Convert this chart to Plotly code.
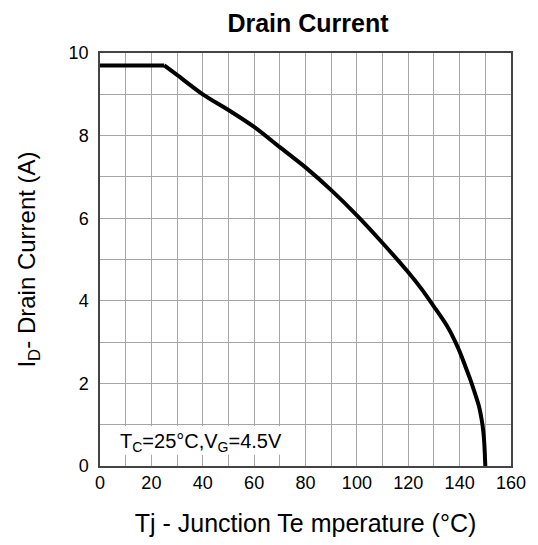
import plotly.graph_objects as go

# Data
flat_temperature_c = [0, 25]
flat_current_a = [9.7, 9.7]

temperature_c = [25, 30, 40, 50, 60, 70, 80, 90, 100, 110, 120, 125,
                 130, 135, 138, 140, 142, 144, 146, 147.5, 148.5, 149.2, 149.6,
                 149.8, 150]
drain_current_a = [9.7, 9.47, 9.0, 8.62, 8.21, 7.72, 7.23, 6.68, 6.07,
                   5.40, 4.69, 4.30, 3.86, 3.40, 3.05, 2.77, 2.45, 2.12,
                   1.75, 1.45, 1.15, 0.85, 0.55, 0.30, 0.0]

x_ticks = [0, 20, 40, 60, 80, 100, 120, 140, 160]
y_ticks = [0, 2, 4, 6, 8, 10]

FONT = "Arial, Liberation Sans, Helvetica, sans-serif"
GRID = "#a6a6a6"
FRAME = "#444444"

fig = go.Figure()
fig.add_trace(go.Scatter(
    x=flat_temperature_c, y=flat_current_a, mode="lines",
    line=dict(color="black", width=4, shape="linear"),
    showlegend=False, hoverinfo="x+y",
))
fig.add_trace(go.Scatter(
    x=temperature_c, y=drain_current_a, mode="lines",
    line=dict(color="black", width=4, shape="spline", smoothing=0.8),
    showlegend=False, hoverinfo="x+y",
))

# white box behind the condition label (covers grid lines)
fig.add_shape(type="rect", xref="x", yref="y", x0=0, x1=79, y0=0.27, y1=0.97,
              fillcolor="white", line=dict(width=0), layer="between")

fig.add_annotation(
    x=(118 - 100) / 416, y=(474 - 450) / 421, xref="paper", yref="paper",
    text="T<sub>C</sub>=25°C,V<sub>G</sub>=4.5V",
    showarrow=False, xanchor="left", yanchor="middle",
    font=dict(family=FONT, size=20, color="black"),
)

fig.update_layout(
    width=538, height=545,
    margin=dict(l=100, r=22, t=53, b=71),
    paper_bgcolor="white", plot_bgcolor="white",
    font=dict(family=FONT, color="black"),
    title=dict(text="<b>Drain Current</b>", x=(100 + 516) / 2 / 538, xanchor="center",
               y=1 - 23.5 / 545, yanchor="middle",
               font=dict(family=FONT, size=25, color="black")),
)

fig.update_xaxes(
    range=[0, 160], tickvals=x_ticks, ticktext=[str(v) for v in x_ticks],
    showgrid=True, gridcolor=GRID, gridwidth=1,
    minor=dict(dtick=10, showgrid=True, gridcolor=GRID, gridwidth=1),
    showline=True, linecolor=FRAME, linewidth=1.5, mirror=True,
    ticks="", tickfont=dict(family=FONT, size=18, color="black"),
    zeroline=False,
    title=dict(text="Tj - Junction Te mperature (°C)", standoff=22,
               font=dict(family=FONT, size=25, color="black")),
)
fig.update_yaxes(
    range=[0, 10], tickvals=y_ticks, ticktext=[str(v) for v in y_ticks],
    showgrid=True, gridcolor=GRID, gridwidth=1,
    minor=dict(dtick=1, showgrid=True, gridcolor=GRID, gridwidth=1),
    showline=True, linecolor=FRAME, linewidth=1.5, mirror=True,
    ticks="", ticklabelstandoff=6, tickfont=dict(family=FONT, size=18, color="black"),
    zeroline=False,
    title=dict(text="I<sub>D</sub>- Drain Current (A)", standoff=26,
               font=dict(family=FONT, size=24, color="black")),
)

fig.write_html("out.html")
